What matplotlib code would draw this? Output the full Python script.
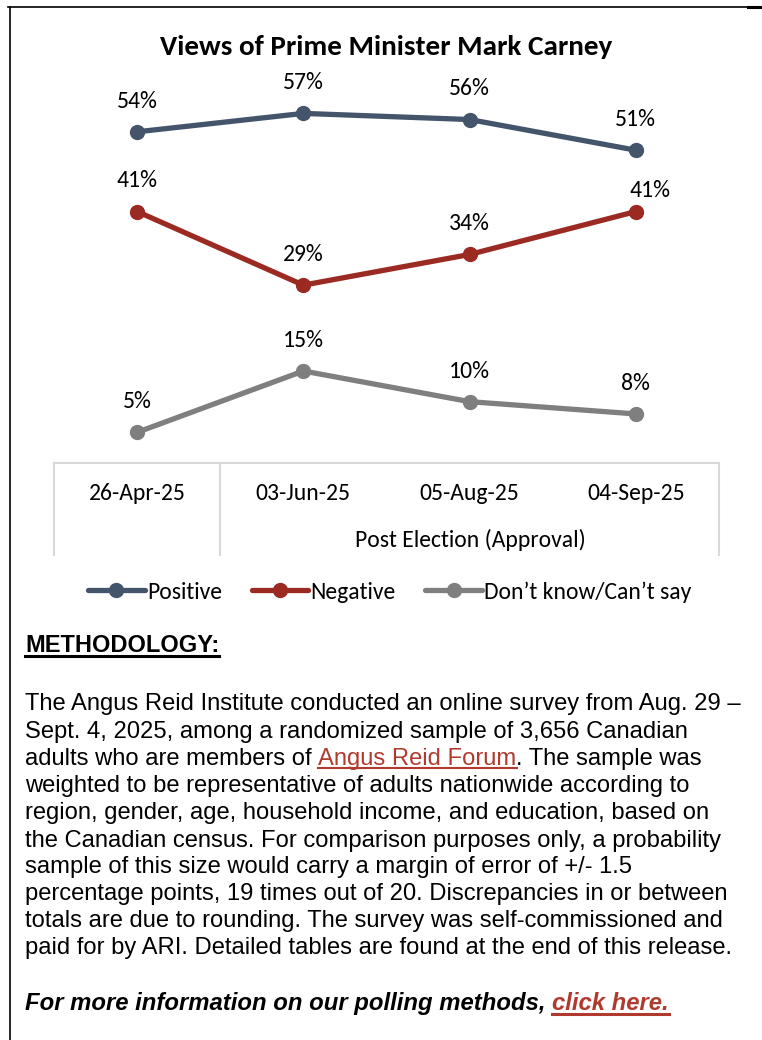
import matplotlib
matplotlib.use('Agg')
import matplotlib.pyplot as plt
from matplotlib import font_manager
from matplotlib.lines import Line2D
from matplotlib.transforms import blended_transform_factory

# Survey waves and results (%)
dates = ['26-Apr-25', '03-Jun-25', '05-Aug-25', '04-Sep-25']
group_label = 'Post Election (Approval)'
positive = [54, 57, 56, 51]
negative = [41, 29, 34, 41]
dont_know = [5, 15, 10, 8]
series_names = ['Positive', 'Negative', 'Don\u2019t know/Can\u2019t say']

W, H = 762, 1040
POS_C = '#44546A'
NEG_C = '#9B2A22'
DK_C = '#7F7F7F'
LINK_C = '#B03A2E'
BOX_C = '#D9D9D9'


def pick_font(options):
    for name in options:
        try:
            font_manager.findfont(font_manager.FontProperties(family=name), fallback_to_default=False)
            return name
        except Exception:
            continue
    return 'DejaVu Sans'


CHART_FONT = pick_font(['Carlito', 'Lato', 'Open Sans'])
BODY_FONT = pick_font(['Liberation Sans', 'Arial'])


def fx(px):
    return px / W


def fy(py):
    return 1 - py / H


fig = plt.figure(figsize=(W / 100, H / 100), dpi=100)

# page frame: top and left rules
fig.add_artist(Line2D([fx(8), fx(748)], [fy(7), fy(7)], color='black', lw=1.2))
fig.add_artist(Line2D([fx(748), fx(762)], [fy(7), fy(7)], color='black', lw=2.2))
fig.add_artist(Line2D([fx(10), fx(10)], [fy(7), fy(1040)], color='black', lw=1.2))

fig.text(fx(386), fy(47), 'Views of Prime Minister Mark Carney', ha='center', va='center',
         fontsize=21, fontweight='bold', family=CHART_FONT)

# plot area: y=0 sits on the category box
ax_top, ax_bot = 95, 463
ax = fig.add_axes([fx(54), fy(ax_bot), fx(719) - fx(54), (ax_bot - ax_top) / H])
ax.set_xlim(-0.5, 3.5)
ax.set_ylim(0, 60)
ax.axis('off')

x = list(range(len(dates)))
handles = []
for vals, col, name in [(positive, POS_C, series_names[0]),
                        (negative, NEG_C, series_names[1]),
                        (dont_know, DK_C, series_names[2])]:
    h, = ax.plot(x, vals, color=col, lw=3.8, marker='o', markersize=10,
                 solid_capstyle='round', label=name)
    handles.append(h)

# data labels (offset in points from each marker)
label_offsets = {
    'pos': [(0, 22), (0, 22), (0, 22), (0, 22)],
    'neg': [(0, 22), (0, 22), (0, 22), (10, 15)],
    'dk': [(0, 22), (0, 22), (0, 22), (0, 22)],
}
for key, vals in [('pos', positive), ('neg', negative), ('dk', dont_know)]:
    for i, v in enumerate(vals):
        dx, dy = label_offsets[key][i]
        ax.annotate(f'{v}%', (i, v), xytext=(dx, dy), textcoords='offset points',
                    ha='center', va='center', fontsize=17, family=CHART_FONT)

# category box under the plot
for seg in [([54, 719], [463, 463]), ([54, 54], [463, 555]),
            ([220, 220], [463, 555]), ([719, 719], [463, 555])]:
    fig.add_artist(Line2D([fx(p) for p in seg[0]], [fy(p) for p in seg[1]],
                          color=BOX_C, lw=1.5))
cat_trans = blended_transform_factory(ax.transData, fig.transFigure)
for i, d in enumerate(dates):
    ax.text(i, fy(493), d, transform=cat_trans, ha='center', va='center',
            fontsize=17, family=CHART_FONT)
fig.text(fx(470), fy(540), group_label, ha='center', va='center', fontsize=17, family=CHART_FONT)

fig.legend(handles=handles, loc='center', bbox_to_anchor=(fx(390), fy(592)), ncol=3,
           frameon=False, handlelength=2.4, handletextpad=0.1, columnspacing=1.25,
           borderpad=0, prop={'family': CHART_FONT, 'size': 17})

# methodology block
fig.canvas.draw()
renderer = fig.canvas.get_renderer()


def underline(t, color, base_px, lw=1.5, gap=3):
    # rule a few pixels under the text baseline
    bb = t.get_window_extent(renderer)
    y = fy(base_px + gap)
    fig.add_artist(Line2D([bb.x0 / W, bb.x1 / W], [y, y], color=color, lw=lw))


head_base = 652
head = fig.text(fx(25), fy(head_base), 'METHODOLOGY:', ha='left', va='baseline', fontsize=17,
                fontweight='bold', family=BODY_FONT)
underline(head, 'black', head_base, lw=2.2, gap=4)

body_lines = [
    'The Angus Reid Institute conducted an online survey from Aug. 29 \u2013',
    'Sept. 4, 2025, among a randomized sample of 3,656 Canadian',
    None,
    'weighted to be representative of adults nationwide according to',
    'region, gender, age, household income, and education, based on',
    'the Canadian census. For comparison purposes only, a probability',
    'sample of this size would carry a margin of error of +/- 1.5',
    'percentage points, 19 times out of 20. Discrepancies in or between',
    'totals are due to rounding. The survey was self-commissioned and',
    'paid for by ARI. Detailed tables are found at the end of this release.',
]
line_base = [710, 738, 765, 792, 819, 847, 873, 900, 927, 954]
body_kw = dict(ha='left', va='baseline', fontsize=17.1, family=BODY_FONT)

for txt, yb in zip(body_lines, line_base):
    if txt is not None:
        fig.text(fx(25), fy(yb), txt, **body_kw)
    else:
        parts = [('adults who are members of ', 'black', False),
                 ('Angus Reid Forum', LINK_C, True),
                 ('. The sample was', 'black', False)]
        xpos = 25
        for s, c, ul in parts:
            t = fig.text(fx(xpos), fy(yb), s, color=c, **body_kw)
            bb = t.get_window_extent(renderer)
            if ul:
                underline(t, c, yb, lw=1.5, gap=3)
            xpos = bb.x1

foot_base = 1010
foot_kw = dict(ha='left', va='baseline', fontsize=17.2, fontweight='bold', style='italic',
               family=BODY_FONT)
t1 = fig.text(fx(25), fy(foot_base), 'For more information on our polling methods, ', **foot_kw)
bb = t1.get_window_extent(renderer)
t2 = fig.text(bb.x1 / W, fy(foot_base), 'click here.', color=LINK_C, **foot_kw)
underline(t2, LINK_C, foot_base, lw=2.2, gap=4)

fig.savefig('out.png', dpi=100)
